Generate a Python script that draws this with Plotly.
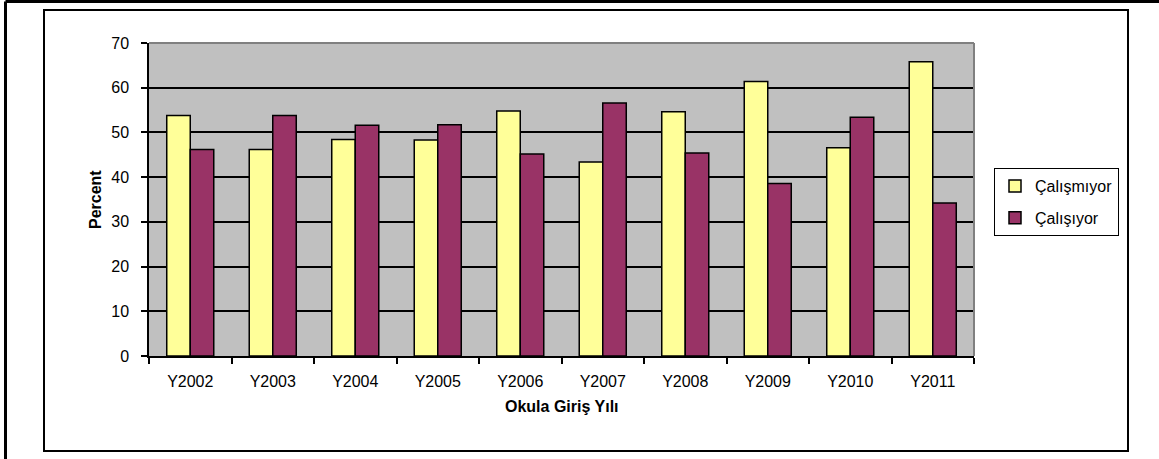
import plotly.graph_objects as go

categories = ["Y2002", "Y2003", "Y2004", "Y2005", "Y2006", "Y2007", "Y2008", "Y2009", "Y2010", "Y2011"]
calismiyor = [53.8, 46.2, 48.4, 48.3, 54.8, 43.4, 54.6, 61.4, 46.6, 65.8]
calisiyor = [46.2, 53.8, 51.6, 51.7, 45.2, 56.6, 45.4, 38.6, 53.4, 34.2]
series_names = ["Çalışmıyor", "Çalışıyor"]
y_ticks = [0, 10, 20, 30, 40, 50, 60, 70]

FONT = "Liberation Sans, Arial, sans-serif"
W, H = 1159, 459
L, R, T, B = 149, 185, 43, 103
pw, ph = W - L - R, H - T - B


def px_x(x):
    return (x - L) / pw


def px_y(y):
    return (H - B - y) / ph


fig = go.Figure()
fig.add_trace(go.Bar(x=categories, y=calismiyor, name=series_names[0], legendgroup="a",
                     marker=dict(color="#FFFF99", line=dict(color="black", width=1.5))))
fig.add_trace(go.Bar(x=categories, y=calisiyor, name=series_names[1], legendgroup="b",
                     marker=dict(color="#993366", line=dict(color="black", width=1.5))))

fig.update_layout(
    width=W, height=H,
    margin=dict(l=L, r=R, t=T, b=B, autoexpand=False),
    paper_bgcolor="white",
    plot_bgcolor="#C0C0C0",
    barmode="group",
    bargap=0.43,
    bargroupgap=0,
    font=dict(family=FONT, size=16, color="black"),
    showlegend=True,
    legend=dict(x=px_x(994), y=px_y(168), xanchor="left", yanchor="top",
                bgcolor="white", bordercolor="black", borderwidth=1,
                font=dict(family=FONT, size=16, color="black"),
                tracegroupgap=8, itemwidth=30),
    xaxis=dict(type="category", showgrid=False, showline=True, linecolor="black", linewidth=1.5,
               ticks="outside", tickson="boundaries", ticklen=6, tickcolor="black", tickwidth=1.5,
               ticklabelstandoff=10, tickfont=dict(family=FONT, size=16), zeroline=False),
    yaxis=dict(range=[0, 70], tickvals=y_ticks, showgrid=True, gridcolor="black", gridwidth=1.5,
               showline=True, linecolor="black", linewidth=1.5, ticks="outside", ticklen=6,
               tickcolor="black", tickwidth=1.5, ticklabelstandoff=9,
               tickfont=dict(family=FONT, size=16), zeroline=False),
    shapes=[
        dict(type="line", xref="paper", yref="paper", x0=0, x1=1, y0=1, y1=1,
             line=dict(color="#808080", width=2)),
        dict(type="line", xref="paper", yref="paper", x0=1, x1=1, y0=0, y1=1,
             line=dict(color="#808080", width=2)),
        dict(type="rect", xref="paper", yref="paper", x0=px_x(44), x1=px_x(1128),
             y0=px_y(451), y1=px_y(10), line=dict(color="black", width=2), layer="below"),
        dict(type="line", xref="paper", yref="paper", x0=px_x(5.5), x1=px_x(1165),
             y0=px_y(1.5), y1=px_y(1.5), line=dict(color="black", width=3)),
        dict(type="line", xref="paper", yref="paper", x0=px_x(5.5), x1=px_x(5.5),
             y0=px_y(465), y1=px_y(1.5), line=dict(color="black", width=3)),
    ],
    annotations=[
        dict(text="<b>Percent</b>", xref="paper", yref="paper", x=px_x(85), y=0.5,
             textangle=-90, showarrow=False, font=dict(family=FONT, size=16)),
        dict(text="<b>Okula Giriş Yılı</b>", xref="paper", yref="paper", x=0.5, y=px_y(417),
             showarrow=False, font=dict(family=FONT, size=16)),
    ],
)

fig.write_html("out.html", config={"displayModeBar": False},
               post_script="document.body.style.margin='0';document.body.style.overflow='hidden';")
